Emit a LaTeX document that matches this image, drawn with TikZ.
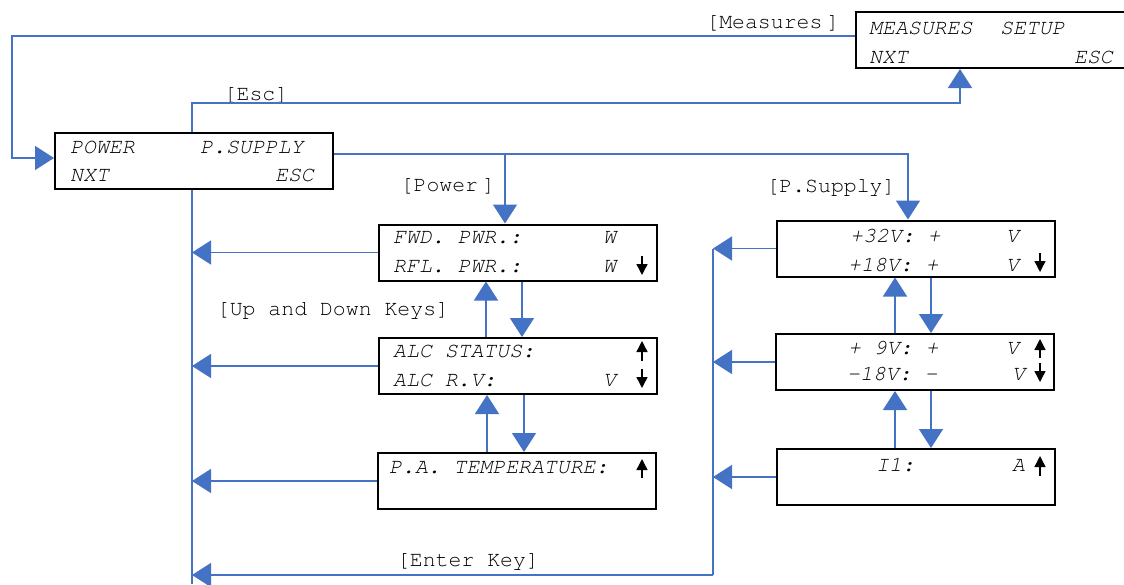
\documentclass[tikz,border=0pt]{standalone}
\usepackage[T1]{fontenc}
\usepackage{fontspec}
\usetikzlibrary{arrows.meta}
\definecolor{lineblue}{HTML}{4472C4}
% Courier (URW Nimbus Mono) for the display texts and key names
\newcommand\courierfont{\fontencoding{T1}\fontfamily{pcr}\selectfont}
\begin{document}
\begin{tikzpicture}[x=1pt,y=-1pt,
  panel/.style={draw=black,line width=2pt,minimum width=278pt,minimum height=56pt,inner sep=0pt},
  lcd/.style={font=\courierfont\slshape\fontsize{21.5}{21.5}\selectfont,inner sep=0pt,anchor=base west},
  lcdr/.style={lcd,anchor=base east},
  keylabel/.style={font=\courierfont\fontsize{21.5}{21.5}\selectfont,inner sep=0pt},
  conn/.style={draw=lineblue,line width=1.5pt},
  arr/.style={conn,-{Triangle[length=19pt,width=24pt]}},
  tick/.style={draw=black,line width=1.4pt,-{Triangle[length=11pt,width=11pt]}},
]
\useasboundingbox (0,0) rectangle (1124,584);

% display panels
\node[panel] (meas) at (995,40) {};
\node[panel] (pw)   at (194,160.5) {};
\node[panel] (fwd)  at (518,252.5) {};
\node[panel] (alc)  at (518,366) {};
\node[panel] (pa)   at (517,481) {};
\node[panel] (v32)  at (916,248.5) {};
\node[panel] (v9)   at (915,362) {};
\node[panel] (i1)   at (916,477) {};

% panel contents
\node[lcd]  (m1) at (869,34) {MEASURES};
\node[lcd]  (m2) at (1000,34) {SETUP};
\node[lcd]  (m3) at (869,63) {NXT};
\node[lcdr] (m4) at (1113,63) {ESC};

\node[lcd]  (p1) at (70,153) {POWER};
\node[lcd]  (p2) at (200,153) {P.SUPPLY};
\node[lcd]  (p3) at (70,181) {NXT};
\node[lcdr] (p4) at (314,181) {ESC};

\node[lcd] (f1) at (393,243) {FWD. PWR.:};
\node[lcd] (f2) at (603,243) {W};
\node[lcd] (f3) at (393,272) {RFL. PWR.:};
\node[lcd] (f4) at (603,272) {W};
\draw[tick] (642,256) -- (642,275);

\node[lcd] (a1) at (393,357) {ALC STATUS:};
\draw[tick] (642,361) -- (642,341);
\node[lcd] (a2) at (393,386) {ALC R.V:};
\node[lcd] (a3) at (603,386) {V};
\draw[tick] (642,369) -- (642,388);

\node[lcd] (t1) at (389,473) {P.A. TEMPERATURE:};
\draw[tick] (642,478) -- (642,459);

\node[lcd] (s1) at (850,242) {+32V: +};
\node[lcd] (s2) at (1006,242) {V};
\node[lcd] (s3) at (848,271) {+18V: +};
\node[lcd] (s4) at (1006,271) {V};
\draw[tick] (1040,253) -- (1040,272);

\node[lcd] (n1) at (848,354) {+ 9V: +};
\node[lcd] (n2) at (1006,354) {V};
\draw[tick] (1040,358) -- (1040,339);
\node[lcd] (n3) at (847,380) {\textendash18V: \textendash};
\node[lcd] (n4) at (1012,380) {V};
\draw[tick] (1040,363) -- (1040,382);

\node[lcd] (c1) at (876,471) {I1:};
\node[lcd] (c2) at (1012,471) {A};
\draw[tick] (1040,476) -- (1040,456);

% key labels
\node[keylabel] (kmeas) at (773,23) {\spaceskip=0.2em\relax [Measures ]};
\node[keylabel] (kesc)  at (256,95) {[Esc]};
\node[keylabel] (kpow)  at (448,186) {\spaceskip=0.2em\relax [Power ]};
\node[keylabel] (kps)   at (831,187) {[P.Supply]};
\node[keylabel] (kud)   at (333,310.5) {[Up and Down Keys]};
\node[keylabel] (kent)  at (468,561.5) {[Enter Key]};

% bus coordinates
\coordinate (mturn) at (12,158);
\coordinate (eturn) at (960,103);
\coordinate (pturn) at (908,154);
\coordinate (pbr)   at (505,154);
\coordinate (lb)    at (192,584);
\coordinate (rb)    at (713,575);

% Measures -> main menu
\draw[arr] ([yshift=4pt]meas.west) -| (mturn) -- (mturn -| pw.west);
% Esc -> Measures
\draw[arr] ([xshift=-2pt]pw.north) |- (eturn) -- (eturn |- meas.south);
% Power / P.Supply branches
\draw[arr] (pturn -| pw.east) -- (pturn) -- (pturn |- v32.north);
\draw[arr] (pbr) -- (pbr |- fwd.north);

% Enter key return buses
\draw[conn] ([xshift=-2pt]pw.south) -- (lb);
\draw[arr] (fwd.west) -- (fwd.west -| lb);
\draw[arr] (alc.west) -- (alc.west -| lb);
\draw[arr] (pa.west) -- (pa.west -| lb);
\draw[conn] (v32.west -| rb) -- (rb);
\draw[arr] (v32.west) -- (v32.west -| rb);
\draw[arr] (v9.west) -- (v9.west -| rb);
\draw[arr] (i1.west) -- (i1.west -| rb);
\draw[arr] (rb) -- (rb -| lb);

% up and down keys between pages
\path ([xshift=-32pt]alc.north) coordinate (u1) ([xshift=4pt]fwd.south) coordinate (d1);
\draw[arr] (u1) -- (u1 |- fwd.south);
\draw[arr] (d1) -- (d1 |- alc.north);
\path ([xshift=-30pt]pa.north) coordinate (u2) ([xshift=6pt]alc.south) coordinate (d2);
\draw[arr] (u2) -- (u2 |- alc.south);
\draw[arr] (d2) -- (d2 |- pa.north);
\path ([xshift=-20pt]v9.north) coordinate (u3) ([xshift=15pt]v32.south) coordinate (d3);
\draw[arr] (u3) -- (u3 |- v32.south);
\draw[arr] (d3) -- (d3 |- v9.north);
\path ([xshift=-21pt]i1.north) coordinate (u4) ([xshift=16pt]v9.south) coordinate (d4);
\draw[arr] (u4) -- (u4 |- v9.south);
\draw[arr] (d4) -- (d4 |- i1.north);
\end{tikzpicture}
\end{document}
